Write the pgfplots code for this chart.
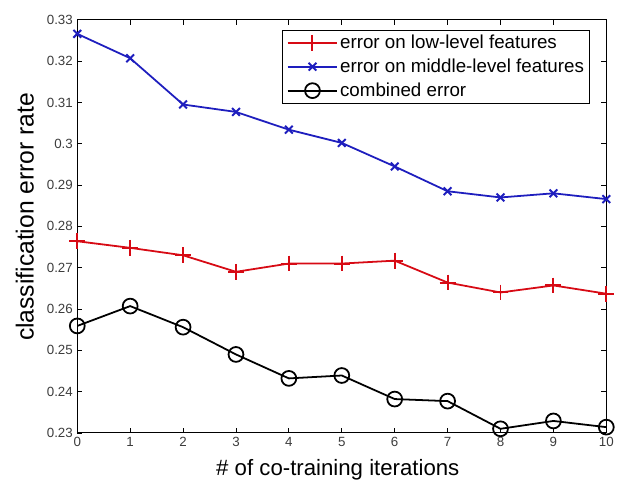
\documentclass[border=0pt]{standalone}
\usepackage{pgfplots}
\pgfplotsset{compat=1.18}
\usepackage{fontspec}
\setmainfont{Liberation Sans}
\definecolor{mred}{RGB}{215,10,20}
\definecolor{mblue}{RGB}{30,30,190}
\definecolor{tickgray}{RGB}{60,60,60}
\begin{document}
\begin{tikzpicture}
\begin{axis}[
  scale only axis, width=534bp, height=417bp,
  xmin=0, xmax=10, ymin=0.23, ymax=0.33,
  xtick={0,1,2,3,4,5,6,7,8,9,10},
  ytick={0.23,0.24,0.25,0.26,0.27,0.28,0.29,0.30,0.31,0.32,0.33},
  tick align=inside, major tick length=5bp,
  tick style={black, line width=0.8pt},
  axis line style={line width=1pt},
  /pgf/number format/assume math mode=true,
  ticklabel style={font=\fontsize{13.5}{13.5}\selectfont, text=tickgray},
  yticklabel style={/pgf/number format/fixed, /pgf/number format/precision=2, xshift=-1bp},
  xticklabel style={yshift=-1bp},
  xlabel={\# of co-training iterations},
  ylabel={classification error rate},
  xlabel style={font=\fontsize{22.5}{22.5}\selectfont, at={(axis description cs:0.4925,-0.089)}, anchor=center},
  ylabel style={font=\fontsize{25}{25}\selectfont, at={(axis description cs:-0.099,0.523)}, anchor=center},
  legend style={at={(axis description cs:0.970,0.976)}, anchor=north east,
    draw=black, line width=1pt, font=\fontsize{19}{26}\selectfont,
    inner xsep=4bp, inner ysep=3bp, row sep=5bp,
    /tikz/every even column/.append style={column sep=0bp}},
  legend cell align=left,
  legend image code/.code={\draw[mark repeat=2, mark phase=2] plot coordinates {(0bp,0bp) (25bp,0bp) (50bp,0bp)};},
]
\addplot[mred, line width=1.8pt, mark=+, mark size=8bp, mark options={line width=2pt}] coordinates {
 (0,0.2764) (1,0.2748) (2,0.2730) (3,0.2690) (4,0.2710) (5,0.2710)
 (6,0.2717) (7,0.2664) (8,0.2640) (9,0.2657) (10,0.2637)};
\addlegendentry{error on low-level features}
\addplot[mblue, line width=1.8pt, mark=x, mark size=5.5bp, mark options={line width=2pt}] coordinates {
 (0,0.3266) (1,0.3207) (2,0.3095) (3,0.3077) (4,0.3034) (5,0.3002)
 (6,0.2945) (7,0.2885) (8,0.2870) (9,0.2880) (10,0.2866)};
\addlegendentry{error on middle-level features}
\addplot[black, line width=1.8pt, mark=o, mark size=7.5bp, mark options={line width=1.8pt}] coordinates {
 (0,0.2559) (1,0.2607) (2,0.2556) (3,0.2490) (4,0.2432) (5,0.2439)
 (6,0.2382) (7,0.2377) (8,0.2310) (9,0.2329) (10,0.2314)};
\addlegendentry{combined error}
\end{axis}
\path ([xshift=-78bp,yshift=-49bp]current axis.south west) rectangle ([xshift=5bp,yshift=20bp]current axis.north east);
\end{tikzpicture}
\end{document}
